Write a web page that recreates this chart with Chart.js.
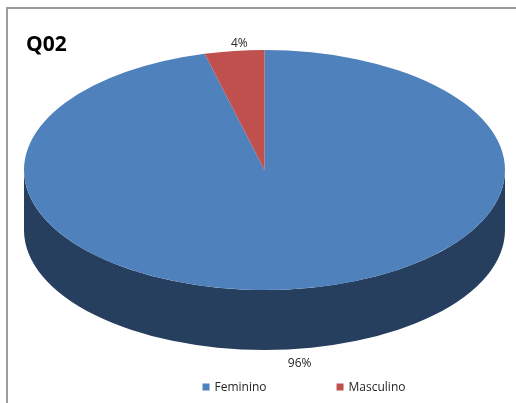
<!DOCTYPE html>
<html>
<head>
<meta charset="utf-8">
<script src="https://cdn.jsdelivr.net/npm/chart.js@4/dist/chart.umd.min.js"></script>
<style>
  html, body { margin: 0; padding: 0; background: #fff; }
  #wrap { position: relative; width: 516px; height: 403px; overflow: hidden; }
  #moldura {
    position: absolute; left: 6px; top: 7px; right: -4px; bottom: -4px;
    border-left: 2px solid #9d9d9d; border-top: 2px solid #9d9d9d;
  }
  #grafico { position: absolute; left: 0; top: 0; }
</style>
</head>
<body>
<div id="wrap">
  <div id="moldura"></div>
  <canvas id="grafico" width="516" height="403"></canvas>
</div>
<script>
// dados da questão
const titulo = 'Q02';
const categorias = ['Feminino', 'Masculino'];
const valores = [96, 4];
const cores = ['#4f81bd', '#c0504d'];
const coresLaterais = ['#263f5f', '#6b2a28'];

const FONTE = "'Open Sans', 'Liberation Sans', sans-serif";

// pizza "3D": achata o círculo do Chart.js numa elipse e desenha a lateral
const pizza3D = {
    id: 'pizza3D',
    beforeDatasetsDraw(chart) {
        const ctx = chart.ctx;
        const area = chart.chartArea;
        const arcos = chart.getDatasetMeta(0).data;
        const cx = (area.left + area.right) / 2;
        const cy = (area.top + area.bottom) / 2;
        const rx = (area.right - area.left) / 2;
        const ry = (area.bottom - area.top) / 2;
        const prof = ry * 0.5;
        const PI = Math.PI;

        // lateral (só a metade da frente aparece)
        arcos.forEach((arco, i) => {
            for (let k = -1; k <= 1; k++) {
                const a0 = Math.max(arco.startAngle, k * 2 * PI);
                const a1 = Math.min(arco.endAngle, k * 2 * PI + PI);
                if (a1 <= a0) continue;
                ctx.beginPath();
                ctx.ellipse(cx, cy, rx, ry, 0, a0, a1);
                ctx.ellipse(cx, cy + prof, rx, ry, 0, a1, a0, true);
                ctx.closePath();
                ctx.fillStyle = coresLaterais[i];
                ctx.fill();
            }
        });

        // tampo: os próprios arcos do Chart.js, escalados
        arcos.forEach(arco => {
            ctx.save();
            ctx.translate(cx, cy);
            ctx.scale(rx / arco.outerRadius, ry / arco.outerRadius);
            ctx.translate(-arco.x, -arco.y);
            arco.draw(ctx);
            ctx.restore();
        });

        // rótulos de porcentagem
        const total = valores.reduce((a, b) => a + b, 0);
        ctx.save();
        ctx.font = '12px ' + FONTE;
        ctx.fillStyle = '#262626';
        ctx.textAlign = 'center';
        ctx.textBaseline = 'middle';
        arcos.forEach((arco, i) => {
            const meio = (arco.startAngle + arco.endAngle) / 2;
            const s = Math.sin(meio), c = Math.cos(meio);
            const x = cx + rx * c + 5;
            let y = cy + ry * s;
            y += s > 0 ? prof + 15 : -7;
            ctx.fillText(Math.round(valores[i] / total * 100) + '%', x, y);
        });
        ctx.restore();

        return false;
    },
    afterDraw(chart) {
        const ctx = chart.ctx;
        ctx.save();

        // título
        ctx.font = 'bold 21px ' + FONTE;
        ctx.fillStyle = '#000';
        ctx.textAlign = 'left';
        ctx.textBaseline = 'alphabetic';
        ctx.fillText(titulo, 26, 51);

        // legenda
        ctx.font = '12px ' + FONTE;
        ctx.textBaseline = 'middle';
        const caixa = 7, folga = 5, espaco = 70;
        const larguras = categorias.map(c => caixa + folga + ctx.measureText(c).width);
        const totalLeg = larguras.reduce((a, b) => a + b, 0) + espaco * (categorias.length - 1);
        let x = 304 - totalLeg / 2;
        const y = 387;
        categorias.forEach((cat, i) => {
            ctx.fillStyle = cores[i];
            ctx.fillRect(x, y - caixa / 2, caixa, caixa);
            ctx.fillStyle = '#262626';
            ctx.fillText(cat, x + caixa + folga, y + 1);
            x += larguras[i] + espaco;
        });
        ctx.restore();
    }
};

new Chart(document.getElementById('grafico').getContext('2d'), {
    type: 'pie',
    data: {
        labels: categorias,
        datasets: [{
            data: valores,
            backgroundColor: cores,
            borderWidth: 0
        }]
    },
    options: {
        responsive: false,
        animation: false,
        events: [],
        layout: { padding: { left: 24, right: 11, top: 50, bottom: 113 } },
        plugins: {
            legend: { display: false },
            tooltip: { enabled: false }
        }
    },
    plugins: [pizza3D]
});
</script>
</body>
</html>
